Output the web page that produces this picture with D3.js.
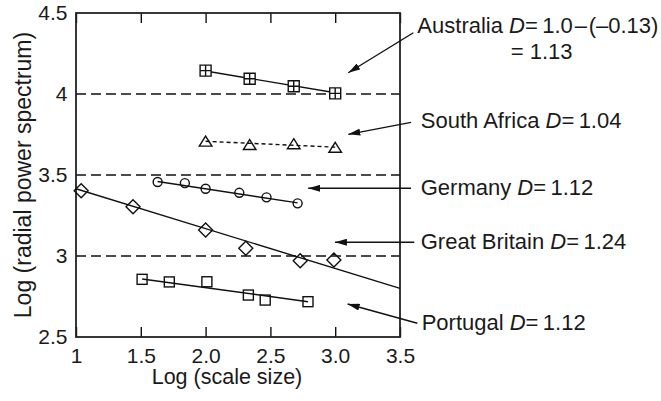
<!DOCTYPE html>
<html>
<head>
<meta charset="utf-8">
<script src="https://cdn.jsdelivr.net/npm/d3@7"></script>
<style>
  body { margin: 0; background: #fff; }
  text { font-family: "Liberation Sans", Arial, sans-serif; fill: #1a1a1a; }
</style>
</head>
<body>
<svg id="chart"></svg>
<script>
// axis ticks
var xTickValues = [1, 1.5, 2.0, 2.5, 3.0, 3.5];
var xTickLabels = ["1", "1.5", "2.0", "2.5", "3.0", "3.5"];
var yTickValues = [2.5, 3, 3.5, 4, 4.5];
var yTickLabels = ["2.5", "3", "3.5", "4", "4.5"];
var refLines = [3, 3.5, 4];

// points
var australiaX = [2.0, 2.34, 2.68, 3.0];
var australiaY = [4.144, 4.094, 4.048, 4.004];
var southAfricaX = [2.0, 2.34, 2.68, 3.0];
var southAfricaY = [3.706, 3.685, 3.69, 3.668];
var germanyX = [1.63, 1.84, 2.0, 2.26, 2.47, 2.71];
var germanyY = [3.457, 3.45, 3.415, 3.39, 3.362, 3.325];
var britainX = [1.04, 1.44, 2.0, 2.31, 2.73, 2.99];
var britainY = [3.403, 3.304, 3.16, 3.048, 2.971, 2.975];
var portugalX = [1.51, 1.72, 2.01, 2.33, 2.46, 2.79];
var portugalY = [2.856, 2.84, 2.841, 2.759, 2.728, 2.718];

// fitted lines (start / end)
var australiaFitX = [2.0, 3.0], australiaFitY = [4.142, 4.008];
var southAfricaFitX = [2.0, 3.0], southAfricaFitY = [3.708, 3.672];
var germanyFitX = [1.63, 2.71], germanyFitY = [3.46, 3.328];
var britainFitX = [1.0, 3.5], britainFitY = [3.415, 2.80];
var portugalFitX = [1.51, 2.79], portugalFitY = [2.858, 2.718];

var series = [
  {name: "Australia", xs: australiaX, ys: australiaY, fx: australiaFitX, fy: australiaFitY, sym: "sqplus", dash: null},
  {name: "South Africa", xs: southAfricaX, ys: southAfricaY, fx: southAfricaFitX, fy: southAfricaFitY, sym: "tri", dash: "4,3"},
  {name: "Germany", xs: germanyX, ys: germanyY, fx: germanyFitX, fy: germanyFitY, sym: "circle", dash: null},
  {name: "Great Britain", xs: britainX, ys: britainY, fx: britainFitX, fy: britainFitY, sym: "diamond", dash: null},
  {name: "Portugal", xs: portugalX, ys: portugalY, fx: portugalFitX, fy: portugalFitY, sym: "square", dash: null}
];

// annotation labels: text before D, text after D, arrow tail/tip (data units)
var notes = [
  {pre: "Australia ", post: "=\u20091.0\u200a\u2013\u200a(\u20130.13)", tx: 3.634, ty: 4.377, ax: [3.603, 3.101], ay: [4.378, 4.131]},
  {pre: "South Africa ", post: "=\u20091.04", tx: 3.66, ty: 3.788, ax: [3.585, 3.101], ay: [3.825, 3.751]},
  {pre: "Germany ", post: "=\u20091.12", tx: 3.66, ty: 3.377, ax: [3.585, 2.792], ay: [3.418, 3.418]},
  {pre: "Great Britain ", post: "=\u20091.24", tx: 3.66, ty: 3.041, ax: [3.61, 2.998], ay: [3.085, 3.085]},
  {pre: "Portugal ", post: "=\u20091.12", tx: 3.667, ty: 2.543, ax: [3.634, 3.096], ay: [2.585, 2.704]}
];

var W = 661, H = 401;
var margin = {top: 13, right: 261, bottom: 64, left: 76};
var width = W - margin.left - margin.right;
var height = H - margin.top - margin.bottom;

var svg = d3.select("#chart").attr("width", W).attr("height", H);
var chart = svg.append("g").attr("transform", `translate(${margin.left},${margin.top})`);

var xScale = d3.scaleLinear().domain([1, 3.5]).range([0, width]);
var yScale = d3.scaleLinear().domain([2.5, 4.5]).range([height, 0]);

svg.append("defs").append("marker")
  .attr("id", "arrow")
  .attr("viewBox", "0 0 12 7")
  .attr("refX", 12).attr("refY", 3.5)
  .attr("markerWidth", 12).attr("markerHeight", 7)
  .attr("markerUnits", "userSpaceOnUse")
  .attr("orient", "auto")
  .append("path").attr("d", "M0,0L12,3.5L0,7Z").attr("fill", "#111");

// dashed reference lines
chart.selectAll(".ref").data(refLines).enter().append("line")
  .attr("x1", 0).attr("x2", width)
  .attr("y1", d => yScale(d)).attr("y2", d => yScale(d))
  .attr("stroke", "#111").attr("stroke-width", 1.3)
  .attr("stroke-dasharray", "10,5");

// axes
var xAxis = d3.axisBottom(xScale).tickValues(xTickValues)
  .tickFormat((d, i) => xTickLabels[i]).tickSizeInner(-10).tickSizeOuter(0).tickPadding(11);
var xAxisTop = d3.axisTop(xScale).tickValues(xTickValues)
  .tickFormat("").tickSizeInner(-10).tickSizeOuter(0);
var yAxis = d3.axisLeft(yScale).tickValues(yTickValues)
  .tickFormat((d, i) => yTickLabels[i]).tickSize(0).tickPadding(8.5);

var gx = chart.append("g").attr("transform", `translate(0,${height})`).call(xAxis);
var gxt = chart.append("g").call(xAxisTop);
var gy = chart.append("g").call(yAxis);
[gx, gxt, gy].forEach(g => {
  g.selectAll("path").remove();
  g.selectAll("line").attr("stroke", "#111").attr("stroke-width", 1.4);
  g.selectAll("text").attr("font-size", "21px").attr("font-family", "\"Liberation Sans\", Arial, sans-serif").attr("fill", "#1a1a1a");
});

// frame
chart.append("rect").attr("x", 0).attr("y", 0).attr("width", width).attr("height", height)
  .attr("fill", "none").attr("stroke", "#222").attr("stroke-width", 1.8);

// fit lines
var line = d3.line().x(d => xScale(d[0])).y(d => yScale(d[1]));
series.forEach(s => {
  chart.append("path")
    .datum(s.fx.map((x, i) => [x, s.fy[i]]))
    .attr("d", line)
    .attr("fill", "none").attr("stroke", "#111").attr("stroke-width", 1.4)
    .attr("stroke-dasharray", s.dash);
});

// markers
function drawSymbol(g, kind) {
  var st = {fill: "none", stroke: "#111", "stroke-width": 1.4};
  var el;
  if (kind === "sqplus") {
    g.append("rect").attr("x", -5.5).attr("y", -5.5).attr("width", 11).attr("height", 11).attr("fill", "#fff");
    el = g.append("path").attr("d", "M-5.5,-5.5H5.5V5.5H-5.5ZM-5.5,0H5.5M0,-5.5V5.5");
  } else if (kind === "tri") {
    el = g.append("path").attr("d", "M0,-5.5L6.3,4.5L-6.3,4.5Z");
  } else if (kind === "circle") {
    el = g.append("circle").attr("r", 4.5);
  } else if (kind === "diamond") {
    el = g.append("path").attr("d", "M0,-7L7,0L0,7L-7,0Z");
  } else {
    el = g.append("rect").attr("x", -5).attr("y", -5).attr("width", 10).attr("height", 10);
  }
  Object.keys(st).forEach(k => el.attr(k, st[k]));
}

series.forEach(s => {
  s.xs.forEach((x, i) => {
    var g = chart.append("g").attr("transform", `translate(${xScale(x)},${yScale(s.ys[i])})`);
    drawSymbol(g, s.sym);
  });
});

// annotations
notes.forEach(n => {
  chart.append("line")
    .attr("x1", xScale(n.ax[0])).attr("y1", yScale(n.ay[0]))
    .attr("x2", xScale(n.ax[1])).attr("y2", yScale(n.ay[1]))
    .attr("stroke", "#111").attr("stroke-width", 1.4)
    .attr("marker-end", "url(#arrow)");
  var t = chart.append("text")
    .attr("x", xScale(n.tx)).attr("y", yScale(n.ty))
    .attr("font-size", "22px");
  t.append("tspan").text(n.pre);
  t.append("tspan").attr("font-style", "italic").text("D");
  t.append("tspan").text(n.post);
});
// second line of the Australia label
chart.append("text")
  .attr("x", xScale(4.593)).attr("y", yScale(4.216))
  .attr("text-anchor", "middle").attr("font-size", "22px")
  .text("= 1.13");

// axis titles
chart.append("text")
  .attr("x", 151).attr("y", height + 47)
  .attr("text-anchor", "middle").attr("font-size", "21.5px")
  .text("Log (scale size)");
chart.append("text")
  .attr("transform", `translate(${31 - margin.left},${175 - margin.top}) rotate(-90)`)
  .attr("text-anchor", "middle").attr("font-size", "23px")
  .text("Log (radial power spectrum)");
</script>
</body>
</html>
